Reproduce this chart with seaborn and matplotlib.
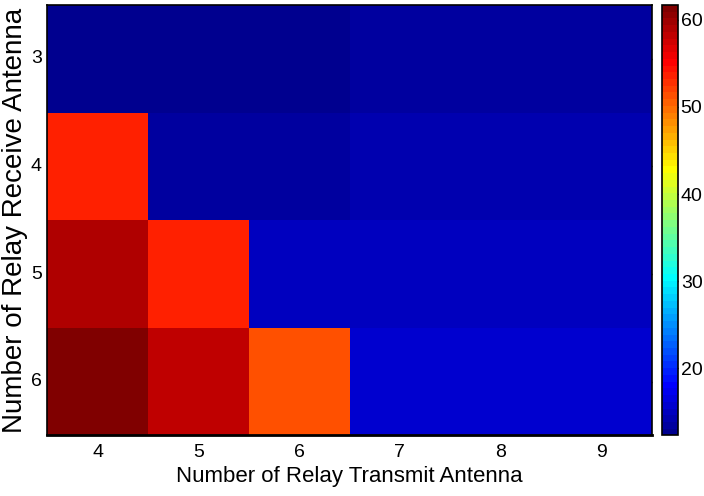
import matplotlib
matplotlib.use("Agg")
import matplotlib.pyplot as plt
from matplotlib.colors import ListedColormap
import seaborn as sns
import pandas as pd
import numpy as np

# Antenna counts on each axis
transmit_antennas = [4, 5, 6, 7, 8, 9]
receive_antennas = [3, 4, 5, 6]

# Cell values, one list per receive-antenna row
row_rx3 = [12.3, 12.3, 12.3, 13.5, 13.5, 13.5]
row_rx4 = [53.6, 13.5, 13.5, 14.2, 14.2, 14.2]
row_rx5 = [59.0, 53.6, 15.0, 15.0, 15.0, 15.0]
row_rx6 = [61.7, 58.3, 51.3, 15.8, 15.8, 15.8]

cbar_ticks = [20, 30, 40, 50, 60]


def classic_jet(m=64):
    """64-step jet colour table built from the classic piecewise ramps."""
    n = int(np.ceil(m / 4))
    u = np.concatenate([np.arange(1, n + 1) / n, np.ones(n - 1),
                        np.arange(n, 0, -1) / n])
    g = int(np.ceil(n / 2)) - (1 if m % 4 == 1 else 0) + np.arange(1, len(u) + 1)
    r = g + n
    b = g - n
    table = np.zeros((m, 3))
    keep = r <= m
    table[r[keep] - 1, 0] = u[keep]
    table[g[g <= m] - 1, 1] = u[g <= m]
    keep = b >= 1
    table[b[keep] - 1, 2] = u[keep]
    return ListedColormap(table)


df = pd.DataFrame([row_rx3, row_rx4, row_rx5, row_rx6],
                  index=receive_antennas, columns=transmit_antennas)

sns.set_theme(style="white")
plt.rcParams["text.color"] = "black"
plt.rcParams["axes.labelcolor"] = "black"
plt.rcParams["xtick.color"] = "black"
plt.rcParams["ytick.color"] = "black"
sans = ["Liberation Sans", "DejaVu Sans"]
plt.rcParams["font.family"] = sans

fig = plt.figure(figsize=(7.04, 4.96), dpi=100)
ax = fig.add_axes([0.067, 0.122, 0.859, 0.868])
cax = fig.add_axes([0.941, 0.122, 0.022, 0.868])

all_rows = [row_rx3, row_rx4, row_rx5, row_rx6]
vmin = min(min(r) for r in all_rows)
vmax = max(max(r) for r in all_rows)

sns.heatmap(df, cmap=classic_jet(64), vmin=vmin, vmax=vmax, ax=ax,
            cbar_ax=cax, linewidths=0, cbar_kws={"ticks": cbar_ticks})

for s in ax.spines.values():
    s.set_visible(True)
    s.set_color("black")
    s.set_linewidth(1.2)
ax.spines["bottom"].set_linewidth(2)

ax.tick_params(axis="both", which="both", direction="in", length=5,
               width=1, color="black", labelcolor="black", top=True,
               right=True, bottom=True, left=True, labelsize=14, pad=6)
ax.tick_params(axis="y", pad=4)
ax.set_xticklabels([str(v) for v in transmit_antennas], rotation=0,
                   fontsize=14)
ax.set_yticklabels([str(v) for v in receive_antennas], rotation=0,
                   fontsize=14)

ax.set_xlabel("Number of Relay Transmit Antenna", fontsize=16, labelpad=4,
              color="black")
ax.set_ylabel("Number of Relay Receive Antenna", fontsize=20,
              color="black", va="center")
ax.yaxis.set_label_coords(-0.053, 0.5)

cb = ax.collections[0].colorbar
cb.outline.set_edgecolor("black")
cb.outline.set_linewidth(1.2)
cax.tick_params(direction="in", length=4, width=1, color="black",
                labelcolor="black", left=True, right=True, labelsize=14,
                pad=2)
cax.set_yticks(cbar_ticks)
cax.set_yticklabels([str(t) for t in cbar_ticks], fontsize=14)

fig.savefig("out.png", dpi=100, facecolor="white")
